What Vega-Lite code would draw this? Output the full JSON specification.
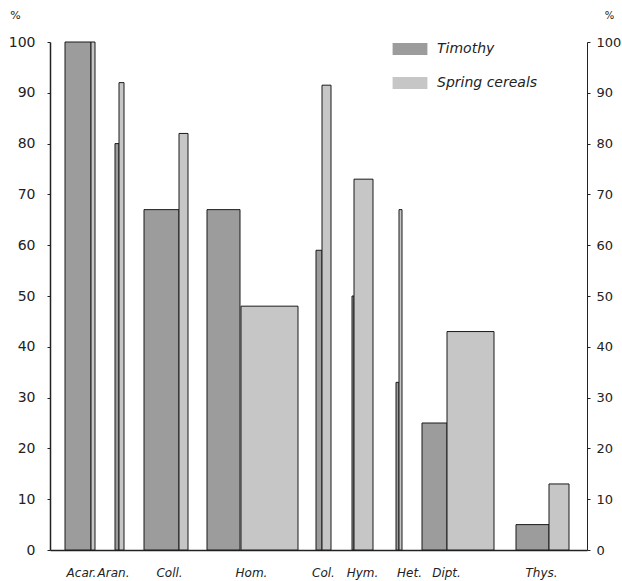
{
  "$schema": "https://vega.github.io/schema/vega-lite/v6.json",
  "width": 537,
  "height": 508,
  "autosize": {"type": "none"},
  "padding": {"left": 50, "top": 42, "right": 35, "bottom": 31},
  "background": "white",
  "config": {
    "view": {"stroke": null},
    "font": "DejaVu Sans",
    "axis": {"grid": false, "domainColor": "#222", "tickColor": "#222", "labelColor": "#222", "titleColor": "#222"}
  },
  "datasets": {
    "bars": [
      {"group": "Acar.", "series": "Timothy", "start": 15, "end": 41, "value": 100},
      {"group": "Acar.", "series": "Spring cereals", "start": 41, "end": 45, "value": 100},
      {"group": "Aran.", "series": "Timothy", "start": 65, "end": 69, "value": 80},
      {"group": "Aran.", "series": "Spring cereals", "start": 69, "end": 74, "value": 92},
      {"group": "Coll.", "series": "Timothy", "start": 94, "end": 129, "value": 67},
      {"group": "Coll.", "series": "Spring cereals", "start": 129, "end": 138, "value": 82},
      {"group": "Hom.", "series": "Timothy", "start": 157, "end": 190, "value": 67},
      {"group": "Hom.", "series": "Spring cereals", "start": 191, "end": 248, "value": 48},
      {"group": "Col.", "series": "Timothy", "start": 266, "end": 272, "value": 59},
      {"group": "Col.", "series": "Spring cereals", "start": 272, "end": 281, "value": 91.5},
      {"group": "Hym.", "series": "Timothy", "start": 302, "end": 304, "value": 50},
      {"group": "Hym.", "series": "Spring cereals", "start": 304, "end": 323, "value": 73},
      {"group": "Het.", "series": "Timothy", "start": 346, "end": 349, "value": 33},
      {"group": "Het.", "series": "Spring cereals", "start": 349, "end": 352, "value": 67},
      {"group": "Dipt.", "series": "Timothy", "start": 372, "end": 397, "value": 25},
      {"group": "Dipt.", "series": "Spring cereals", "start": 397, "end": 444, "value": 43},
      {"group": "Thys.", "series": "Timothy", "start": 466, "end": 499, "value": 5},
      {"group": "Thys.", "series": "Spring cereals", "start": 499, "end": 519, "value": 13}
    ]
  },
  "layer": [
    {
      "data": {"name": "bars"},
      "mark": {"type": "rect", "stroke": "#1a1a1a", "strokeWidth": 1},
      "encoding": {
        "x": {
          "field": "start", "type": "quantitative",
          "scale": {"domain": [0, 537], "nice": false, "zero": false},
          "axis": {
            "orient": "bottom", "values": [31, 63, 119, 201, 273, 312, 359, 396, 491],
            "labelExpr": "{'31':'Acar.','63':'Aran.','119':'Coll.','201':'Hom.','273':'Col.','312':'Hym.','359':'Het.','396':'Dipt.','491':'Thys.'}[datum.value]",
            "title": null, "ticks": false, "labelPadding": 17, "labelFontSize": 12, "labelFontStyle": "italic",
            "labelOverlap": false, "labelBound": false, "labelFlush": false, "domainWidth": 1.5
          }
        },
        "x2": {"field": "end"},
        "y": {
          "field": "value", "type": "quantitative",
          "scale": {"domain": [0, 100], "nice": false},
          "axis": {
            "orient": "left", "values": [0,10,20,30,40,50,60,70,80,90,100],
            "tickSize": 3, "labelPadding": 12, "labelFontSize": 14, "domainWidth": 1.5,
            "title": "%", "titleAngle": 0, "titleX": -35, "titleY": -22, "titleFontSize": 11, "titleFontWeight": "normal",
            "labelFlush": false
          }
        },
        "y2": {"datum": 0},
        "color": {
          "field": "series", "type": "nominal",
          "scale": {"domain": ["Timothy", "Spring cereals"], "range": ["#9c9c9c", "#c6c6c6"]},
          "legend": {
            "title": null, "orient": "none", "legendX": 353, "legendY": 0, "padding": 0,
            "symbolType": "M-2.9,-1H2.9V1H-2.9Z", "symbolSize": 144, "symbolStrokeWidth": 0,
            "symbolOpacity": 1, "labelOffset": 20, "labelFontSize": 14, "labelFontStyle": "italic",
            "labelColor": "#222", "rowPadding": 20
          }
        }
      }
    },
    {
      "mark": {"type": "rule", "color": "#555", "strokeWidth": 1},
      "encoding": {"y": {"datum": 50, "type": "quantitative", "scale": {"domain": [0, 100], "nice": false}, "axis": null}}
    },
    {
      "mark": {"type": "rule", "opacity": 0},
      "encoding": {
        "y": {
          "datum": 0, "type": "quantitative",
          "scale": {"domain": [0, 100], "nice": false},
          "axis": {
            "orient": "right", "values": [0,10,20,30,40,50,60,70,80,90,100],
            "tickSize": 3, "labelPadding": 6, "labelFontSize": 13, "domainWidth": 1,
            "title": "%", "titleAngle": 0, "titleX": 22, "titleY": -22, "titleFontSize": 10, "titleFontWeight": "normal",
            "labelFlush": false
          }
        }
      }
    }
  ],
  "resolve": {"scale": {"y": "independent"}, "axis": {"y": "independent"}}
}
